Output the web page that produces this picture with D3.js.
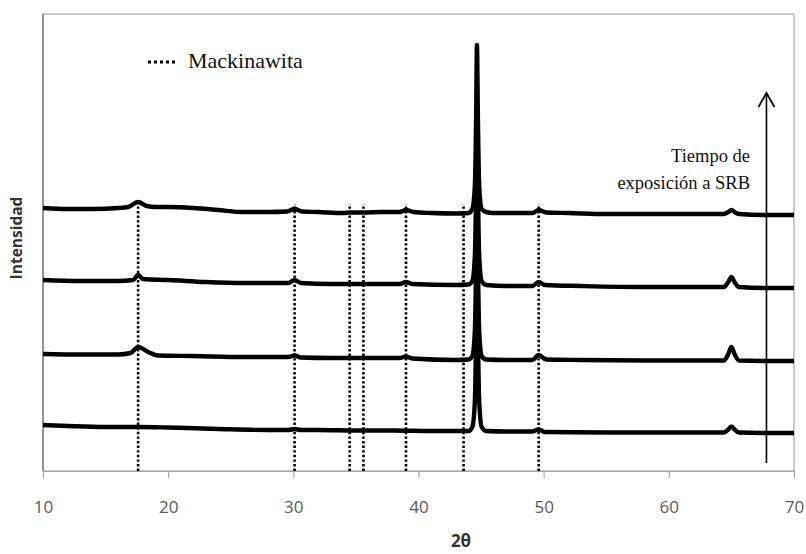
<!DOCTYPE html>
<html>
<head>
<meta charset="utf-8">
<script src="https://cdn.jsdelivr.net/npm/d3@7"></script>
<style>
  body { margin: 0; background: #fff; }
  svg { display: block; }
</style>
</head>
<body>
<div id="chart"></div>
<script>
// 2θ ticks and mackinawite reference positions
const xTicks = [10, 20, 30, 40, 50, 60, 70];
const mackinawita = [17.6, 30.1, 34.5, 35.6, 39.0, 43.6, 49.6];

// patterns, [2θ, intensity a.u.] (already stacked)
const patternD = [[10,263],[12,262],[14,262],[16,263],[16.8,264],[17.6,269],[18.3,265],[19,264],[20,264],[22,263],[24,261],[26,259],[28,259],[29.5,259.5],[30.1,262],[30.7,259.5],[32,259],[34,258],[34.5,258.5],[35.6,258.5],[37,259],[38.5,259],[39,261],[39.6,259],[41,258],[43,257.5],[44,258],[44.3,262],[44.5,285],[44.6,350],[44.67,426],[44.75,350],[44.85,285],[45.05,262],[45.4,259],[46,258],[48,258],[49.1,258],[49.6,261],[50.2,258.5],[52,258],[55,257],[60,257],[64.4,257],[64.75,259],[65,261],[65.25,259],[65.6,257],[68,256],[70,256]];
const patternC = [[10,191],[13,190],[16,190],[17.2,191],[17.6,196],[18,192],[20,191],[23,189],[26,188],[29.6,188],[30.1,191],[30.6,188],[33,187],[35,187],[38.5,187],[39,189],[39.5,187],[43,186],[44,186.5],[44.3,190],[44.5,215],[44.6,280],[44.67,355],[44.75,280],[44.85,215],[45.05,190],[45.4,186],[47,185],[49.1,185],[49.6,189],[50.1,186],[53,185],[58,184],[64.4,184],[64.75,189],[65,194],[65.25,189],[65.6,184],[68,183],[70,183]];
const patternB = [[10,117],[13,116.5],[16,116.5],[17,118],[17.6,124],[18.4,119],[19.2,115.5],[22,115],[26,114],[29.6,114],[30.1,115.5],[30.6,113.5],[33,113],[35,113],[38.5,113],[39,114.5],[39.5,112.5],[43,111],[44,111.5],[44.3,115],[44.5,140],[44.6,205],[44.67,275],[44.75,205],[44.85,140],[45.05,115],[45.4,111.5],[47,111],[49.1,111],[49.6,116],[50.2,111.5],[53,111],[58,110.5],[64.4,110.5],[64.75,117],[65,124],[65.25,117],[65.6,110.5],[68,110],[70,110]];
const patternA = [[10,46],[12,45],[15,44],[17.6,44],[20,43.5],[24,42],[28,41],[29.6,41],[30.1,42],[30.6,41],[32,41],[35,40.5],[38,40.5],[41,40],[44,40],[44.3,44],[44.5,69],[44.6,134],[44.67,204],[44.75,134],[44.85,69],[45.05,44],[45.4,40],[47,39.5],[49.1,39.5],[49.6,41.5],[50.1,39],[55,38.5],[60,38.5],[64.4,38.5],[64.75,41.5],[65,44.5],[65.25,41.5],[65.6,38.5],[68,38],[70,38]];
const patterns = [patternA, patternB, patternC, patternD];

const width = 806, height = 554;
const margin = {top: 14, right: 12, bottom: 83, left: 43};

const svg = d3.select('#chart').append('svg')
    .attr('width', width)
    .attr('height', height);

const x = d3.scaleLinear()
    .domain([10, 70])
    .range([margin.left, width - margin.right]);

const y = d3.scaleLinear()
    .domain([0, 457])
    .range([height - margin.bottom, margin.top]);

// plot frame
svg.append('rect')
    .attr('x', margin.left)
    .attr('y', margin.top)
    .attr('width', x(70) - x(10))
    .attr('height', y(0) - y(457))
    .style('fill', 'none')
    .style('stroke', '#a6a6a6')
    .style('stroke-width', 1.2);

svg.append('line')
    .attr('x1', margin.left).attr('x2', margin.left)
    .attr('y1', margin.top).attr('y2', y(0))
    .style('stroke', '#7f7f7f')
    .style('stroke-width', 1.5);

const xAxis = svg.append('g')
    .attr('transform', `translate(0,${y(0)})`)
    .call(d3.axisBottom(x).tickValues(xTicks).tickSize(7).tickSizeOuter(0).tickFormat(d3.format('d')))

xAxis.select('.domain').style('stroke', '#a6a6a6').style('stroke-width', 1.2)
xAxis.selectAll('.tick line').style('stroke', '#a6a6a6').style('stroke-width', 1.2)
xAxis.selectAll('.tick text')
    .attr('y', 42)
    .attr('dy', 0)
    .style('font-family', "'Open Sans', sans-serif")
    .style('font-size', '17px')
    .style('fill', '#595959')

// mackinawite reference lines
svg.append('g')
    .selectAll('line')
    .data(mackinawita)
    .enter().append('line')
    .attr('x1', d => x(d)).attr('x2', d => x(d))
    .attr('y1', y(0)).attr('y2', 204)
    .style('stroke', '#000')
    .style('stroke-width', 2.6)
    .style('stroke-dasharray', '2.4,2.2');

const line = d3.line()
    .x(d => x(d[0]))
    .y(d => y(d[1]))
    .curve(d3.curveMonotoneX);

svg.append('g')
    .selectAll('path')
    .data(patterns)
    .enter().append('path')
    .attr('d', line)
    .style('fill', 'none')
    .style('stroke', '#000')
    .style('stroke-width', 4.4)
    .style('stroke-linejoin', 'round');

// legend
svg.append('line')
    .attr('x1', 148).attr('x2', 177)
    .attr('y1', 62).attr('y2', 62)
    .style('stroke', '#000')
    .style('stroke-width', 3)
    .style('stroke-dasharray', '3,3');

svg.append('text')
    .attr('x', 188).attr('y', 68)
    .style('font-family', "'Liberation Serif', 'Times New Roman', serif")
    .style('font-size', '22px')
    .style('fill', '#111')
    .text('Mackinawita');

// time arrow
const arrowX = x(67.8);
svg.append('line')
    .attr('x1', arrowX).attr('x2', arrowX)
    .attr('y1', 463).attr('y2', 93)
    .style('stroke', '#000')
    .style('stroke-width', 1.6);

svg.append('path')
    .attr('d', `M${arrowX - 8},107 L${arrowX},93 L${arrowX + 8},107`)
    .style('fill', 'none')
    .style('stroke', '#000')
    .style('stroke-width', 1.8);

const note = svg.append('text')
    .attr('text-anchor', 'end')
    .style('font-family', "'Liberation Serif', 'Times New Roman', serif")
    .style('font-size', '18.5px')
    .style('fill', '#111');
note.append('tspan').attr('x', 750).attr('y', 162).text('Tiempo de');
note.append('tspan').attr('x', 750).attr('y', 189).text('exposición a SRB');

// axis titles
svg.append('text')
    .attr('x', 461).attr('y', 547)
    .attr('text-anchor', 'middle')
    .style('font-family', "'Open Sans', sans-serif")
    .style('font-weight', 'bold')
    .style('font-size', '17px')
    .style('fill', '#333')
    .text('2θ');

svg.append('text')
    .attr('transform', 'translate(22,238) rotate(-90)')
    .attr('text-anchor', 'middle')
    .style('font-family', "'Open Sans', sans-serif")
    .style('font-weight', 'bold')
    .style('font-size', '15.5px')
    .style('fill', '#333')
    .text('Intensidad');
</script>
</body>
</html>
